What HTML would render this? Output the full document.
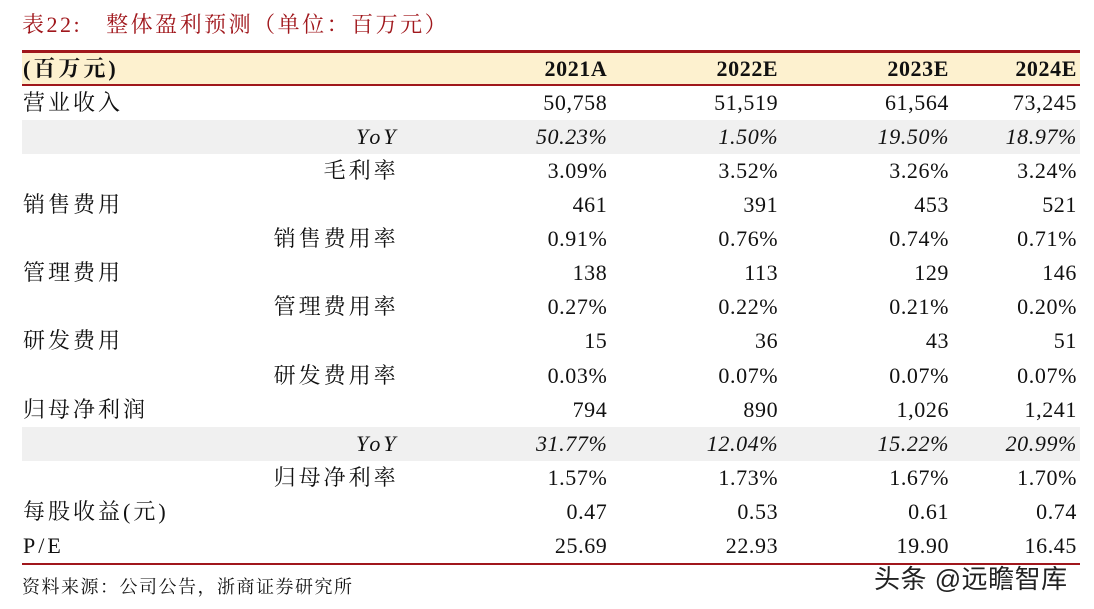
<!DOCTYPE html>
<html><head><meta charset="utf-8"><style>
body{margin:0;width:1094px;height:609px;background:#fff;position:relative;overflow:hidden;font-family:"Liberation Serif","Noto Serif CJK SC",serif;color:#111}
.title{position:absolute;left:22px;top:8px;font-size:22px;color:#a0171c;white-space:pre;letter-spacing:2.5px}
table{position:absolute;left:22px;top:50px;width:1058px;border-collapse:collapse;font-size:22px}
td{height:34.07px;padding:0;white-space:nowrap;line-height:34px;letter-spacing:0.6px}
tr.hd td{height:31px;line-height:31px;background:#fdf1cf;font-weight:bold;border-top:3px solid #a0171c;border-bottom:2px solid #a0171c}
tr.g td{background:#f0f0f0}
tr.last td{border-bottom:2px solid #a0171c}
.l{width:376px;padding-left:1px;letter-spacing:3px}
.n{text-align:right}
.l.n{padding-right:0;letter-spacing:3px}
.c1{width:209px}.c2{width:171px}.c3{width:171px}.c4{width:128px;padding-right:3px}
.i{font-style:italic}
.src{position:absolute;left:22px;top:573px;font-size:18px;letter-spacing:1.5px}
.wm{position:absolute;left:874px;top:559px;font-size:26px;font-family:"Liberation Sans","Noto Sans CJK SC",sans-serif;color:#222;letter-spacing:0.5px}
</style></head><body>
<div class="title">表22:   整体盈利预测（单位：百万元）</div>
<table>
<tr class="hd"><td class="l">(百万元)</td><td class="n c1">2021A</td><td class="n c2">2022E</td><td class="n c3">2023E</td><td class="n c4">2024E</td></tr>
<tr><td class="l">营业收入</td><td class="n">50,758</td><td class="n">51,519</td><td class="n">61,564</td><td class="n c4">73,245</td></tr>
<tr class="g i"><td class="l n">YoY</td><td class="n">50.23%</td><td class="n">1.50%</td><td class="n">19.50%</td><td class="n c4">18.97%</td></tr>
<tr><td class="l n">毛利率</td><td class="n">3.09%</td><td class="n">3.52%</td><td class="n">3.26%</td><td class="n c4">3.24%</td></tr>
<tr><td class="l">销售费用</td><td class="n">461</td><td class="n">391</td><td class="n">453</td><td class="n c4">521</td></tr>
<tr><td class="l n">销售费用率</td><td class="n">0.91%</td><td class="n">0.76%</td><td class="n">0.74%</td><td class="n c4">0.71%</td></tr>
<tr><td class="l">管理费用</td><td class="n">138</td><td class="n">113</td><td class="n">129</td><td class="n c4">146</td></tr>
<tr><td class="l n">管理费用率</td><td class="n">0.27%</td><td class="n">0.22%</td><td class="n">0.21%</td><td class="n c4">0.20%</td></tr>
<tr><td class="l">研发费用</td><td class="n">15</td><td class="n">36</td><td class="n">43</td><td class="n c4">51</td></tr>
<tr><td class="l n">研发费用率</td><td class="n">0.03%</td><td class="n">0.07%</td><td class="n">0.07%</td><td class="n c4">0.07%</td></tr>
<tr><td class="l">归母净利润</td><td class="n">794</td><td class="n">890</td><td class="n">1,026</td><td class="n c4">1,241</td></tr>
<tr class="g i"><td class="l n">YoY</td><td class="n">31.77%</td><td class="n">12.04%</td><td class="n">15.22%</td><td class="n c4">20.99%</td></tr>
<tr><td class="l n">归母净利率</td><td class="n">1.57%</td><td class="n">1.73%</td><td class="n">1.67%</td><td class="n c4">1.70%</td></tr>
<tr><td class="l">每股收益(元)</td><td class="n">0.47</td><td class="n">0.53</td><td class="n">0.61</td><td class="n c4">0.74</td></tr>
<tr class="last"><td class="l">P/E</td><td class="n">25.69</td><td class="n">22.93</td><td class="n">19.90</td><td class="n c4">16.45</td></tr>
</table>
<div class="src">资料来源：公司公告，浙商证券研究所</div>
<div class="wm">头条 @远瞻智库</div>
</body></html>
